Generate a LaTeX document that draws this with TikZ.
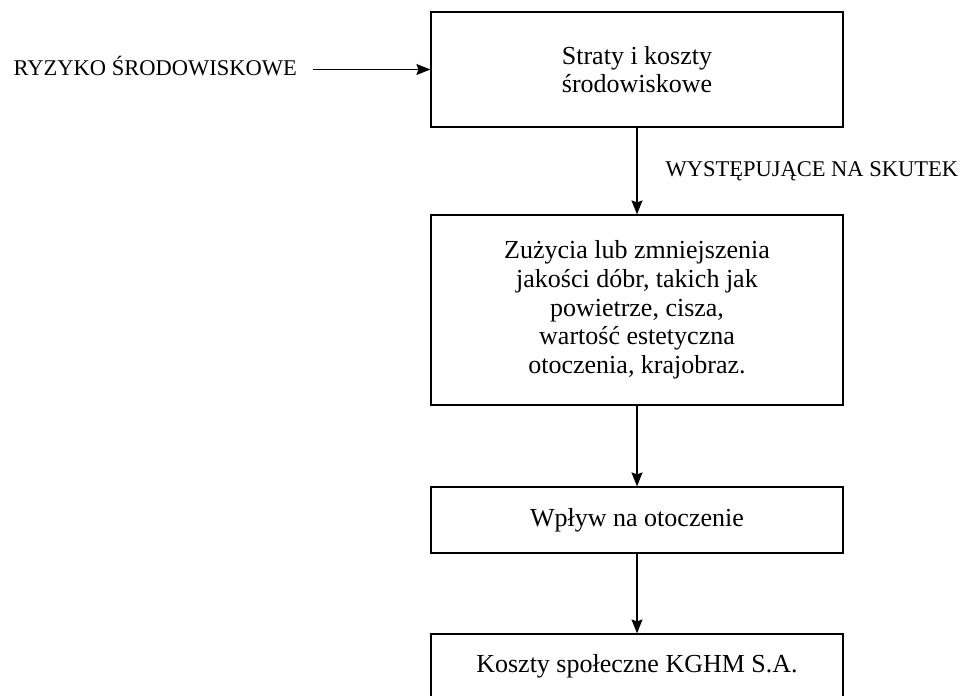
\documentclass[tikz,border=0pt]{standalone}
\usepackage{fontspec}
\setmainfont{Liberation Serif}
\usetikzlibrary{arrows.meta}
\begin{document}
\begin{tikzpicture}[x=1pt,y=-1pt,
  box/.style={draw, line width=1.2pt, minimum width=412pt, inner sep=0pt, align=center,
              font=\fontsize{26}{28.7}\selectfont},
  conn/.style={line width=1.2pt, -{Stealth[length=14pt,width=11pt,inset=2pt]}},
  lbl/.style={font=\fontsize{22.5}{27}\selectfont, inner sep=0pt}]
\useasboundingbox (0,0) rectangle (962,696);
\node[box, minimum height=115pt] (b1) at (637,69.5) {Straty i koszty\\środowiskowe};
\node[box, minimum height=190pt] (b2) at (637,310) {Zużycia lub zmniejszenia\\jakości dóbr, takich jak\\powietrze, cisza,\\wartość estetyczna\\otoczenia, krajobraz.};
\node[box, minimum height=66pt] (b3) at (637,520) {Wpływ na otoczenie};
\node[box, minimum height=64pt] (b4) at (637,666) {Koszty społeczne KGHM S.A.};
\node[lbl, anchor=base east, inner xsep=16pt] (risk) at (313,75) {RYZYKO ŚRODOWISKOWE};
\draw[conn] (risk.east |- b1.west) -- (b1.west);
\draw[conn] (b1) -- node[lbl, right=28pt] {WYSTĘPUJĄCE NA SKUTEK} (b2);
\draw[conn] (b2) -- (b3);
\draw[conn] (b3) -- (b4);
\end{tikzpicture}
\end{document}
